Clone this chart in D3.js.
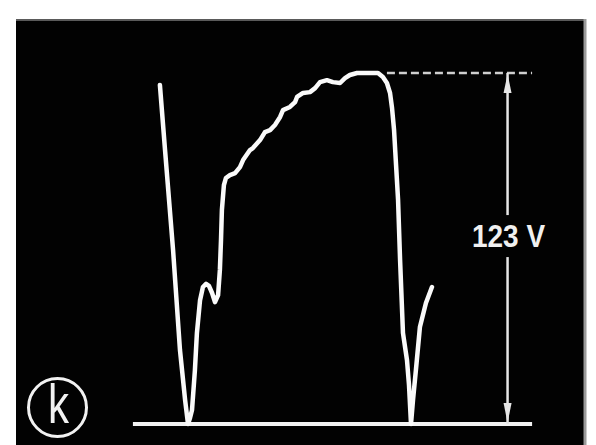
<!DOCTYPE html>
<html>
<head>
<meta charset="utf-8">
<script src="https://cdn.jsdelivr.net/npm/d3@7"></script>
<style>
  html, body { margin: 0; padding: 0; background: #fff; }
  svg { display: block; }
</style>
</head>
<body>
<svg id="scope" width="596" height="445"></svg>
<script>
// Voltage trace: time in ms, voltage in V (one half-period = 10 ms)
const traceTime = [
  -1.26, -1.03, -0.67, -0.36, -0.13, 0.00,
  0.09, 0.18, 0.31, 0.40, 0.54, 0.67, 0.81, 0.94, 1.08, 1.21, 1.35, 1.43, 1.48, 1.52,
  1.61, 1.70, 1.88, 2.11, 2.33, 2.47, 2.78, 2.91, 3.23, 3.45, 3.68, 3.90, 4.13, 4.26,
  4.57, 4.80, 4.89, 5.16, 5.47, 5.70, 5.92, 6.23, 6.50, 6.82, 7.04, 7.26, 7.58, 8.16,
  8.52, 8.74, 8.92, 9.06, 9.15, 9.24, 9.33, 9.42, 9.51, 9.64, 9.82, 9.91, 10.00,
  10.09, 10.22, 10.40, 10.67, 10.94
];
const traceVolts = [
  118.8, 96.0, 61.0, 25.9, 8.4, 0.0,
  2.1, 4.9, 18.9, 31.9, 43.4, 48.0, 49.1, 48.4, 45.9, 42.7, 45.2, 54.0, 64.5, 75.0,
  83.7, 86.2, 87.2, 87.9, 90.0, 92.5, 96.0, 96.7, 99.5, 102.3, 103.0, 104.8, 107.6, 110.0,
  111.1, 112.8, 114.6, 116.0, 116.3, 117.7, 119.8, 120.5, 119.8, 119.5, 121.2, 122.3, 123.0, 123.0,
  123.0, 121.6, 119.5, 116.0, 110.7, 103.0, 90.7, 78.5, 57.5, 31.9, 22.4, 13.7, 0.0,
  8.4, 18.9, 34.0, 42.4, 48.0
];

// Reference marks
const peakVolts = 123;
const peakLabel = "123 V";
const baselineSpan = [-2.47, 15.43];   // ms, zero-volt reference line
const peakLineSpan = [8.92, 15.43];    // ms, dashed peak reference
const dimensionTime = 14.33;           // ms, position of the dimension arrow
const panelTag = "k";

const svg = d3.select("#scope");

// Screen
svg.append("rect")
  .attr("x", 16).attr("y", 19)
  .attr("width", 569).attr("height", 430)
  .attr("fill", "#020202");
svg.append("line")
  .attr("x1", 16).attr("x2", 585).attr("y1", 20).attr("y2", 20)
  .attr("stroke", "#5a5a5a").attr("stroke-width", 2);
svg.append("line")
  .attr("x1", 585).attr("x2", 585).attr("y1", 19).attr("y2", 445)
  .attr("stroke", "#9a9a9a").attr("stroke-width", 3);

const x = d3.scaleLinear().domain([0, 10]).range([188, 411]);
const y = d3.scaleLinear().domain([0, peakVolts]).range([424, 73]);

const glow = svg.append("defs").append("filter")
  .attr("id", "glow").attr("x", "-20%").attr("y", "-20%")
  .attr("width", "140%").attr("height", "140%");
glow.append("feGaussianBlur").attr("stdDeviation", 0.6);

// Zero-volt baseline
svg.append("line")
  .attr("x1", x(baselineSpan[0])).attr("x2", x(baselineSpan[1]))
  .attr("y1", y(0)).attr("y2", y(0))
  .attr("stroke", "#f2f2f2").attr("stroke-width", 4);

// Dashed peak reference
svg.append("line")
  .attr("x1", x(peakLineSpan[0])).attr("x2", x(peakLineSpan[1]))
  .attr("y1", y(peakVolts)).attr("y2", y(peakVolts))
  .attr("stroke", "#cfcfcf").attr("stroke-width", 2.5)
  .attr("stroke-dasharray", "8,4");

// Trace
const pts = traceTime.map((t, i) => [t, traceVolts[i]]);
const line = d3.line().x(d => x(d[0])).y(d => y(d[1])).curve(d3.curveLinear);
svg.append("path")
  .datum(pts)
  .attr("d", line)
  .attr("fill", "none")
  .attr("stroke", "#fafafa")
  .attr("stroke-width", 4.5)
  .attr("stroke-linejoin", "round")
  .attr("stroke-linecap", "round")
  .attr("filter", "url(#glow)");

// Dimension arrow with label
const dx = x(dimensionTime);
const labelY = y(62);
const gapTop = labelY - 32, gapBottom = labelY + 10;
const dim = svg.append("g").attr("stroke", "#e6e6e6").attr("fill", "#e6e6e6");
dim.append("line").attr("x1", dx).attr("x2", dx)
  .attr("y1", y(peakVolts)).attr("y2", gapTop).attr("stroke-width", 2.5);
dim.append("line").attr("x1", dx).attr("x2", dx)
  .attr("y1", gapBottom).attr("y2", y(0)).attr("stroke-width", 2.5);
dim.append("path").attr("stroke", "none")
  .attr("d", `M${dx},${y(peakVolts) + 1}L${dx - 4},${y(peakVolts) + 20}L${dx + 4},${y(peakVolts) + 20}Z`);
dim.append("path").attr("stroke", "none")
  .attr("d", `M${dx},${y(0) - 1}L${dx - 4},${y(0) - 21}L${dx + 4},${y(0) - 21}Z`);

svg.append("text")
  .attr("x", dx + 1).attr("y", labelY)
  .attr("text-anchor", "middle")
  .attr("font-family", "'Liberation Sans', Arial, sans-serif")
  .attr("font-weight", "bold")
  .attr("font-size", 32)
  .attr("textLength", 73)
  .attr("lengthAdjust", "spacingAndGlyphs")
  .attr("fill", "#f0f0f0")
  .text(peakLabel);

// Panel tag
svg.append("circle")
  .attr("cx", 57.5).attr("cy", 407.5).attr("r", 29)
  .attr("fill", "none").attr("stroke", "#f2f2f2").attr("stroke-width", 3);
svg.append("text")
  .attr("x", 58.5).attr("y", 423)
  .attr("text-anchor", "middle")
  .attr("font-family", "'Liberation Sans', Arial, sans-serif")
  .attr("font-size", 55)
  .attr("textLength", 21)
  .attr("lengthAdjust", "spacingAndGlyphs")
  .attr("fill", "#f2f2f2")
  .text(panelTag);
</script>
</body>
</html>
